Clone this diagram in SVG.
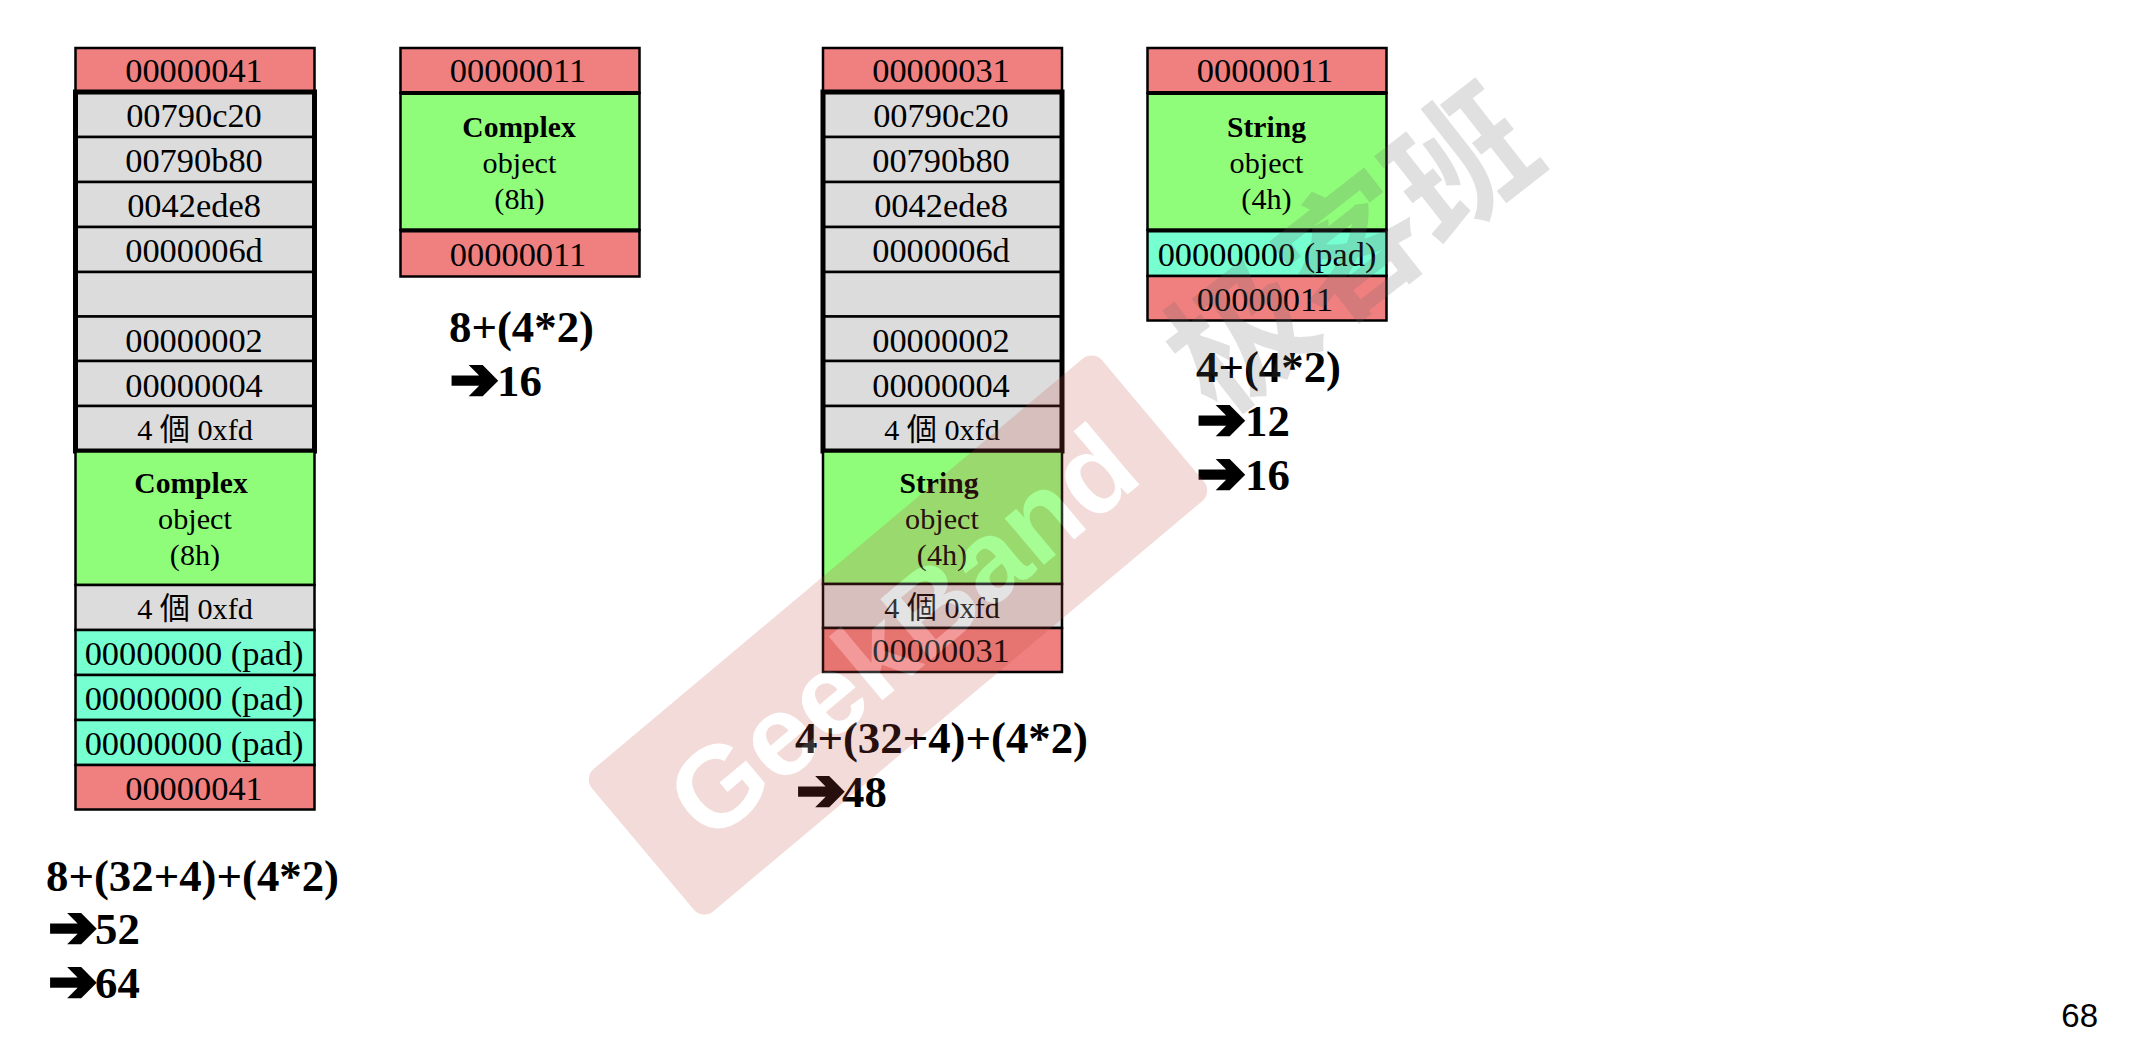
<svg xmlns="http://www.w3.org/2000/svg" width="2140" height="1042" viewBox="0 0 2140 1042">
<style>
.r{fill:#f08080;stroke:#000;stroke-width:2.5}
.g{fill:#dcdcdc;stroke:#000;stroke-width:2.5}
.o{fill:#90fd7a;stroke:#000;stroke-width:2.5}
.p{fill:#76ffd0;stroke:#000;stroke-width:2.5}
.b{fill:none;stroke:#000;stroke-width:5}
text{font-family:"Liberation Serif","Noto Sans CJK TC",serif;fill:#000}
.t{font-size:34.4px;text-anchor:middle}
.s{font-size:30.2px;text-anchor:middle}
.h{font-size:29.6px;font-weight:bold;text-anchor:middle}
.f{font-size:44.8px;font-weight:bold}
.a{font-family:"DejaVu Sans",sans-serif;font-size:58px;font-weight:bold;stroke:#000;stroke-width:3.5}
.w{font-family:"Liberation Sans",sans-serif;font-size:115px;font-weight:bold;text-anchor:middle}
</style>
<rect width="2140" height="1042" fill="#fff"/>
<g id="stack-complex-debug">
<rect class="r" x="75.5" y="48" width="239" height="44"/>
<rect class="g" x="75.5" y="92" width="239" height="45"/><rect class="g" x="75.5" y="137" width="239" height="45"/><rect class="g" x="75.5" y="182" width="239" height="45"/><rect class="g" x="75.5" y="227" width="239" height="45"/><rect class="g" x="75.5" y="272" width="239" height="44.5"/><rect class="g" x="75.5" y="316.500" width="239" height="44.500"/><rect class="g" x="75.500" y="361" width="239" height="45"/><rect class="g" x="75.500" y="406" width="239" height="45"/>
<rect class="b" x="75.500" y="92" width="239" height="359"/>
<rect class="o" x="75.500" y="451.500" width="239" height="133.500"/>
<rect class="g" x="75.500" y="585" width="239" height="45"/>
<rect class="p" x="75.500" y="630" width="239" height="45"/><rect class="p" x="75.500" y="675" width="239" height="45"/><rect class="p" x="75.500" y="720" width="239" height="45"/>
<rect class="r" x="75.500" y="765" width="239" height="44.500"/>
<text class="t" x="194" y="82">00000041</text>
<text class="t" x="194" y="127">00790c20</text>
<text class="t" x="194" y="172">00790b80</text>
<text class="t" x="194" y="217">0042ede8</text>
<text class="t" x="194" y="262">0000006d</text>
<text class="t" x="194" y="352">00000002</text>
<text class="t" x="194" y="397">00000004</text>
<text class="s" x="195" y="440">4 個 0xfd</text>
<text class="h" x="191" y="493">Complex</text>
<text class="s" x="195" y="529">object</text>
<text class="s" x="195" y="565">(8h)</text>
<text class="s" x="195" y="619">4 個 0xfd</text>
<text class="t" x="194" y="665">00000000 (pad)</text>
<text class="t" x="194" y="710">00000000 (pad)</text>
<text class="t" x="194" y="755">00000000 (pad)</text>
<text class="t" x="194" y="800">00000041</text>
</g>
<g id="sum-complex-debug">
<text class="f" x="46" y="891">8+(32+4)+(4*2)</text>
<text class="f" x="48.500" y="946.500"><tspan class="a">➔</tspan><tspan x="95" y="944">52</tspan></text>
<text class="f" x="48.500" y="1000.500"><tspan class="a">➔</tspan><tspan x="95" y="998">64</tspan></text>
</g>
<g id="stack-complex-release">
<rect class="r" x="400.500" y="48" width="239" height="45"/>
<rect class="o" x="400.500" y="93" width="239" height="137"/>
<rect class="r" x="400.500" y="230" width="239" height="46.500"/>
<line class="b" x1="400.500" y1="93" x2="639.500" y2="93" style="stroke-width:4"/>
<line class="b" x1="400.500" y1="230.500" x2="639.500" y2="230.500" style="stroke-width:4"/>
<text class="t" x="518" y="82">00000011</text>
<text class="h" x="519" y="137">Complex</text>
<text class="s" x="519.500" y="173">object</text>
<text class="s" x="519.500" y="209">(8h)</text>
<text class="t" x="518" y="266">00000011</text>
</g>
<g id="sum-complex-release">
<text class="f" x="449" y="342">8+(4*2)</text>
<text class="f" x="450" y="398.500"><tspan class="a">➔</tspan><tspan x="497" y="396">16</tspan></text>
</g>
<g id="stack-string-debug">
<rect class="r" x="823" y="48" width="239" height="44"/>
<rect class="g" x="823" y="92" width="239" height="45"/><rect class="g" x="823" y="137" width="239" height="45"/><rect class="g" x="823" y="182" width="239" height="45"/><rect class="g" x="823" y="227" width="239" height="45"/><rect class="g" x="823" y="272" width="239" height="44.500"/><rect class="g" x="823" y="316.500" width="239" height="44.500"/><rect class="g" x="823" y="361" width="239" height="45"/><rect class="g" x="823" y="406" width="239" height="45"/>
<rect class="b" x="823" y="92" width="239" height="359"/>
<rect class="o" x="823" y="451.500" width="239" height="132.500"/>
<rect class="g" x="823" y="584" width="239" height="44"/>
<rect class="r" x="823" y="628" width="239" height="44"/>
<text class="t" x="941" y="82">00000031</text>
<text class="t" x="941" y="127">00790c20</text>
<text class="t" x="941" y="172">00790b80</text>
<text class="t" x="941" y="217">0042ede8</text>
<text class="t" x="941" y="262">0000006d</text>
<text class="t" x="941" y="352">00000002</text>
<text class="t" x="941" y="397">00000004</text>
<text class="s" x="942" y="440">4 個 0xfd</text>
<text class="h" x="939" y="493">String</text>
<text class="s" x="942" y="529">object</text>
<text class="s" x="942" y="565">(4h)</text>
<text class="s" x="942" y="618">4 個 0xfd</text>
<text class="t" x="941" y="662">00000031</text>
</g>
<g id="sum-string-debug">
<text class="f" x="795" y="753">4+(32+4)+(4*2)</text>
<text class="f" x="796.500" y="809.500"><tspan class="a">➔</tspan><tspan x="842" y="807">48</tspan></text>
</g>
<g id="stack-string-release">
<rect class="r" x="1147.500" y="48" width="239" height="45"/>
<rect class="o" x="1147.500" y="93" width="239" height="137"/>
<rect class="p" x="1147.500" y="230" width="239" height="46"/>
<rect class="r" x="1147.500" y="276" width="239" height="44.500"/>
<line class="b" x1="1147.500" y1="93" x2="1386.500" y2="93" style="stroke-width:4"/>
<line class="b" x1="1147.500" y1="230.500" x2="1386.500" y2="230.500" style="stroke-width:4"/>
<text class="t" x="1265" y="82">00000011</text>
<text class="h" x="1266.500" y="137">String</text>
<text class="s" x="1266.500" y="173">object</text>
<text class="s" x="1266.500" y="209">(4h)</text>
<text class="t" x="1267" y="266">00000000 (pad)</text>
<text class="t" x="1265" y="311">00000011</text>
</g>
<g id="sum-string-release">
<text class="f" x="1196" y="382">4+(4*2)</text>
<text class="f" x="1197" y="438.500"><tspan class="a">➔</tspan><tspan x="1245" y="436">12</tspan></text>
<text class="f" x="1197" y="492.500"><tspan class="a">➔</tspan><tspan x="1245" y="490">16</tspan></text>
</g>
<text id="page-number" x="2098" y="1027" text-anchor="end" style="font-family:'Liberation Sans',Arial,sans-serif;font-size:33px">68</text>
<defs>
<mask id="hole" maskUnits="userSpaceOnUse" x="0" y="0" width="2140" height="1042">
<rect width="2140" height="1042" fill="#fff"/>
<text class="w" transform="translate(898 635) rotate(-40)" x="5" y="40" style="fill:#000">GeekBand</text>
</mask>
</defs>
<g id="watermark">
<g mask="url(#hole)"><rect x="565" y="542" width="666" height="186" rx="14" transform="rotate(-40 898 635)" fill="#be4b3c" fill-opacity=".2"/></g>
<text class="w" transform="translate(898 635) rotate(-40)" x="5" y="40" style="fill:#fff;fill-opacity:.2">GeekBand</text>
<text transform="translate(1352 250) rotate(-38)" y="50" text-anchor="middle" style="font-family:'Noto Sans CJK SC',sans-serif;font-size:140px;font-weight:700;fill:#646464;fill-opacity:.2">极客班</text>
</g>
</svg>
